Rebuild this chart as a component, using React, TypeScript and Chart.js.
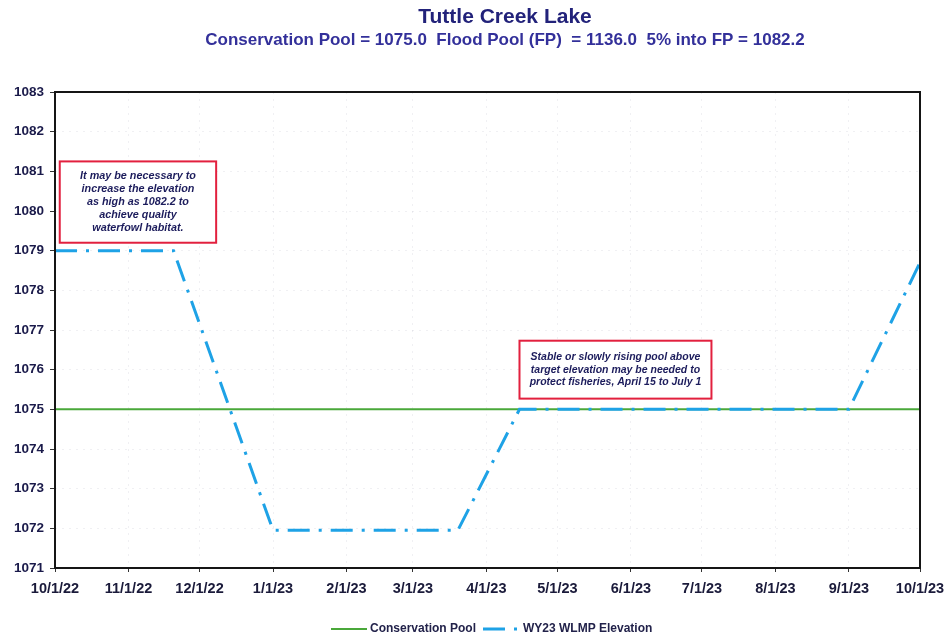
import React, { useEffect, useRef } from 'react';
import { Chart, registerables } from 'chart.js';

Chart.register(...registerables);

const titleText = 'Tuttle Creek Lake';
const subtitleText = 'Conservation Pool = 1075.0  Flood Pool (FP)  = 1136.0  5% into FP = 1082.2';

// x = days since 10/1/22
const xTickDays = [0, 31, 61, 92, 123, 151, 182, 212, 243, 273, 304, 335, 365];
const xTickLabels = ['10/1/22', '11/1/22', '12/1/22', '1/1/23', '2/1/23', '3/1/23', '4/1/23', '5/1/23', '6/1/23', '7/1/23', '8/1/23', '9/1/23', '10/1/23'];
const yMin = 1071;
const yMax = 1083;

const seriesNames = ['Conservation Pool', 'WY23 WLMP Elevation'];
const conservationDays = [0, 365];
const conservationValues = [1075, 1075];
const wlmpDays = [0, 50, 92, 170, 196, 335, 365];
const wlmpValues = [1079, 1079, 1071.95, 1071.95, 1075, 1075, 1078.7];

// annotation boxes in data coordinates: [dayLeft, dayRight, valueTop, valueBottom]
const note1Box = [2, 68, 1081.25, 1079.2];
const note1Lines = ['It may be necessary to', 'increase the elevation', 'as high as 1082.2 to', 'achieve quality', 'waterfowl habitat.'];
const note2Box = [196, 277, 1076.73, 1075.27];
const note2Lines = ['Stable or slowly rising pool above', 'target elevation may be needed to', 'protect fisheries, April 15 to July 1'];

const GREEN = '#4aa83a';
const BLUE = '#1ea2e6';
const DASH = [22, 9, 3, 9];
const NARROW = '"Liberation Sans Narrow", "Arial Narrow", "Liberation Sans", Arial, sans-serif';
const SANS = '"Liberation Sans", Arial, sans-serif';

const decorPlugin = {
  id: 'decor',
  afterDraw(chart: any) {
    const { ctx, chartArea, scales } = chart;
    const x = scales.x;
    const y = scales.y;
    ctx.save();
    // plot border
    ctx.strokeStyle = '#151515';
    ctx.lineWidth = 2;
    ctx.strokeRect(chartArea.left, chartArea.top, chartArea.width, chartArea.height);

    // titles
    ctx.textAlign = 'center';
    ctx.textBaseline = 'middle';
    ctx.fillStyle = '#22227a';
    ctx.font = `bold 21px ${NARROW}`;
    ctx.fillText(titleText, 505, 17);
    ctx.fillStyle = '#33309a';
    ctx.font = `bold 17px ${NARROW}`;
    ctx.fillText(subtitleText, 505, 40);

    // notes
    const drawNote = (box: number[], lines: string[], fontPx: number, lh: number) => {
      const l = x.getPixelForValue(box[0]);
      const r = x.getPixelForValue(box[1]);
      const t = y.getPixelForValue(box[2]);
      const b = y.getPixelForValue(box[3]);
      ctx.fillStyle = '#ffffff';
      ctx.fillRect(l, t, r - l, b - t);
      ctx.strokeStyle = '#e2203e';
      ctx.lineWidth = 2;
      ctx.setLineDash([]);
      ctx.strokeRect(l, t, r - l, b - t);
      ctx.fillStyle = '#1c1c5c';
      ctx.font = `italic bold ${fontPx}px ${SANS}`;
      ctx.textAlign = 'center';
      ctx.textBaseline = 'middle';
      const cx = (l + r) / 2;
      const cy = (t + b) / 2;
      const start = cy - ((lines.length - 1) * lh) / 2;
      lines.forEach((s, i) => ctx.fillText(s, cx, start + i * lh));
    };
    drawNote(note1Box, note1Lines, 10.8, 13.2);
    drawNote(note2Box, note2Lines, 10.5, 12.5);

    // legend
    const ly = 629;
    ctx.lineWidth = 2;
    ctx.strokeStyle = GREEN;
    ctx.beginPath();
    ctx.moveTo(331, ly);
    ctx.lineTo(367, ly);
    ctx.stroke();
    ctx.fillStyle = '#22224a';
    ctx.font = `bold 12px ${NARROW}`;
    ctx.textAlign = 'left';
    ctx.textBaseline = 'middle';
    ctx.fillText(seriesNames[0], 370, ly);
    ctx.strokeStyle = BLUE;
    ctx.lineWidth = 3;
    ctx.setLineDash(DASH);
    ctx.beginPath();
    ctx.moveTo(483, ly);
    ctx.lineTo(517, ly);
    ctx.stroke();
    ctx.setLineDash([]);
    ctx.fillText(seriesNames[1], 523, ly);
    ctx.restore();
  },
};

export default function App() {
  const ref = useRef<HTMLCanvasElement | null>(null);
  useEffect(() => {
    document.body.style.margin = '0';
    const canvas = ref.current;
    if (!canvas) return;
    const chart = new Chart(canvas, {
      type: 'line',
      data: {
        datasets: [
          {
            label: seriesNames[1],
            data: wlmpDays.map((d, i) => ({ x: d, y: wlmpValues[i] })),
            borderColor: BLUE,
            borderWidth: 3,
            borderDash: DASH,
            borderCapStyle: 'butt',
            pointRadius: 0,
            fill: false,
            tension: 0,
            order: 0,
          },
          {
            label: seriesNames[0],
            data: conservationDays.map((d, i) => ({ x: d, y: conservationValues[i] })),
            borderColor: GREEN,
            borderWidth: 2,
            pointRadius: 0,
            fill: false,
            tension: 0,
            order: 1,
          },
        ],
      },
      options: {
        animation: false,
        responsive: false,
        layout: { padding: { top: 92, right: 26, bottom: 41, left: 0 } },
        plugins: {
          legend: { display: false },
          title: { display: false },
          tooltip: { enabled: false },
        },
        scales: {
          x: {
            type: 'linear',
            min: 0,
            max: 365,
            afterBuildTicks: (axis: any) => {
              axis.ticks = xTickDays.map((v) => ({ value: v }));
            },
            afterFit: (axis: any) => {
              axis.height = 30;
              axis.paddingRight = 0;
              axis.paddingLeft = 0;
            },
            ticks: {
              autoSkip: false,
              maxRotation: 0,
              padding: 8,
              color: '#1a1a3a',
              font: { family: NARROW, size: 14.5, weight: 'bold' },
              callback: (v: any) => {
                const i = xTickDays.indexOf(Number(v));
                return i >= 0 ? xTickLabels[i] : '';
              },
            },
            grid: {
              color: 'rgba(140,140,160,0.13)',
              tickColor: '#333',
              tickLength: 4,
            },
            border: { display: false, dash: [2, 5] },
          },
          y: {
            min: yMin,
            max: yMax,
            afterFit: (axis: any) => {
              axis.width = 55;
              axis.paddingTop = 0;
              axis.paddingBottom = 0;
            },
            ticks: {
              stepSize: 1,
              padding: 6,
              color: '#1a1a4a',
              font: { family: SANS, size: 13.5, weight: 'bold' },
              callback: (v: any) => String(v),
            },
            grid: {
              color: 'rgba(140,140,160,0.13)',
              tickColor: '#333',
              tickLength: 5,
            },
            border: { display: false, dash: [2, 5] },
          },
        },
      },
      plugins: [decorPlugin],
    } as any);
    return () => chart.destroy();
  }, []);
  return (
    <div style={{ width: 946, height: 639, background: '#fff' }}>
      <canvas ref={ref} width={946} height={639} />
    </div>
  );
}
